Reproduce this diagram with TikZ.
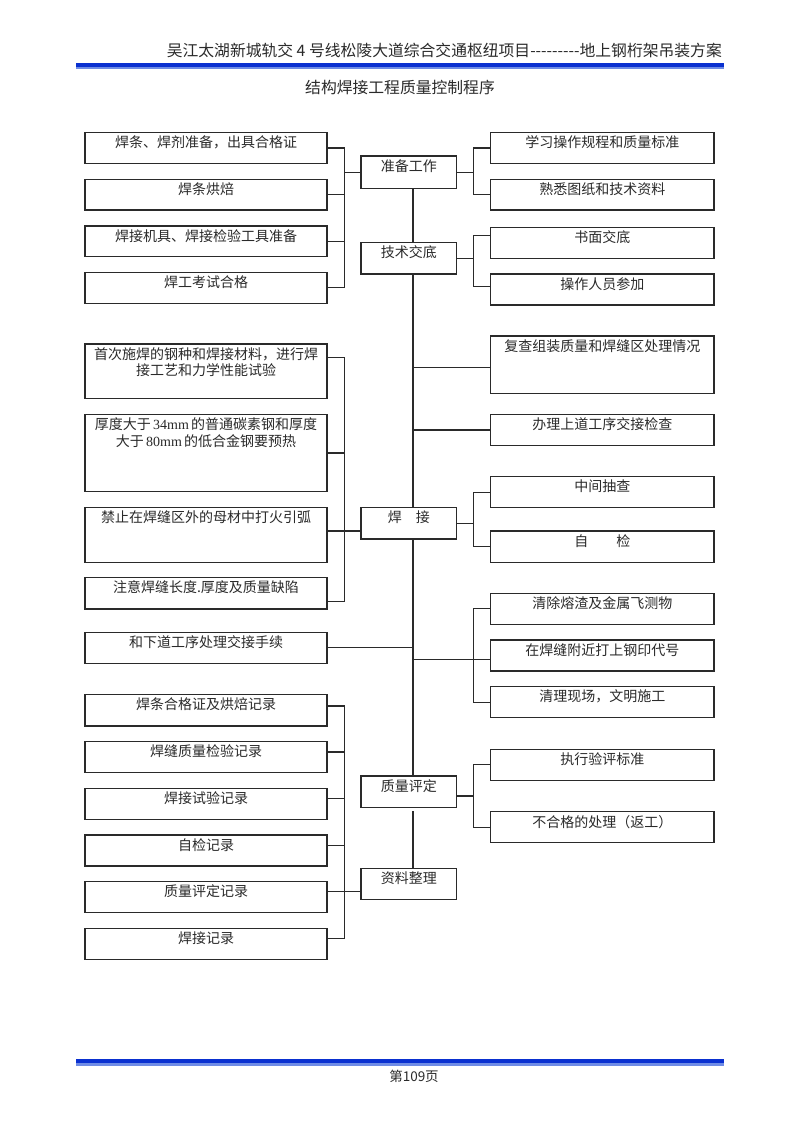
\documentclass[tikz,border=0pt]{standalone}
\usepackage{fontspec}
\setmainfont{Noto Sans CJK SC}
\newfontfamily\latser{Liberation Serif}
\definecolor{hdrblue}{HTML}{0A30D0}
\definecolor{hdrlight}{HTML}{6F8CE6}
\definecolor{ink}{HTML}{2A2A2A}
\begin{document}
\begin{tikzpicture}[x=1pt,y=-1pt,
  box/.style={draw=ink, line width=1.1pt, anchor=north west, inner sep=0pt, outer sep=0pt},
  lbox/.style={box, minimum width=242pt},
  cbox/.style={box, minimum width=95.7pt},
  rbox/.style={box, minimum width=223.3pt},
  txt/.style={anchor=north, inner sep=0pt, yshift=-3.2pt, align=center, font=\fontsize{14}{16.7}\selectfont, text=ink},
  wire/.style={draw=ink, line width=1.1pt}]
\fill[white] (0,0) rectangle (800,1132);
\useasboundingbox (0,0) rectangle (800,1132);
% header and footer
\fill[hdrblue] (76,63) rectangle (724,67.3);
\fill[hdrlight] (76,67.3) rectangle (724,69.3);
\node[anchor=base east, inner sep=0pt, text=ink, font=\fontsize{15.8}{18}\selectfont] (hdr) at (722,57) {吴江太湖新城轨交 4 号线松陵大道综合交通枢纽项目-{}-{}-{}-{}-{}-{}-{}-{}-{}地上钢桁架吊装方案};
\node[anchor=base, inner sep=0pt, text=ink, font=\fontsize{15.8}{18}\selectfont] (title) at (400,93) {结构焊接工程质量控制程序};
\fill[hdrblue] (76,1059.3) rectangle (724,1063.3);
\fill[hdrlight] (76,1063.3) rectangle (724,1065.7);
\node[anchor=base, inner sep=0pt, text=ink, font=\fontsize{13.5}{16}\selectfont] (pg) at (414,1081) {第109页};
% bus coordinates
\coordinate (LB) at (344.5,0);
\coordinate (MV) at (413,0);
\coordinate (RB) at (473.5,0);
% top section
\node[lbox, minimum height=31pt, label={[txt]north:焊条、焊剂准备，出具合格证}] (b1) at (85,132.5) {};
\node[lbox, minimum height=30.7pt, label={[txt]north:焊条烘焙}] (b2) at (85,179.3) {};
\node[lbox, minimum height=30.7pt, label={[txt]north:焊接机具、焊接检验工具准备}] (b3) at (85,226) {};
\node[lbox, minimum height=31pt, label={[txt]north:焊工考试合格}] (b4) at (85,272.3) {};
\node[cbox, minimum height=32.7pt, label={[txt]north:准备工作}] (c1) at (361,156) {};
\node[rbox, minimum height=31pt, label={[txt]north:学习操作规程和质量标准}] (r1) at (490.7,132.5) {};
\node[rbox, minimum height=30.7pt, label={[txt]north:熟悉图纸和技术资料}] (r2) at (490.7,179.3) {};
\node[cbox, minimum height=31.3pt, label={[txt]north:技术交底}] (c2) at (361,242.7) {};
\node[rbox, minimum height=31pt, label={[txt]north:书面交底}] (r3) at (490.7,227.3) {};
\node[rbox, minimum height=31pt, label={[txt]north:操作人员参加}] (r4) at (490.7,274) {};
% welding section
\node[lbox, minimum height=54.7pt, label={[txt]north:首次施焊的钢种和焊接材料，进行焊\\接工艺和力学性能试验}] (l5) at (85,344) {};
\node[lbox, minimum height=77.4pt, label={[txt]north:厚度大于{\latser\,34mm\,}的普通碳素钢和厚度\\大于{\latser\,80mm\,}的低合金钢要预热}] (l6) at (85,414.3) {};
\node[lbox, minimum height=54.6pt, label={[txt]north:禁止在焊缝区外的母材中打火引弧}] (l7) at (85,507.7) {};
\node[lbox, minimum height=31.3pt, label={[txt]north:注意焊缝长度.厚度及质量缺陷}] (l8) at (85,577.7) {};
\node[rbox, minimum height=57.3pt, label={[txt]north:复查组装质量和焊缝区处理情况}] (r5) at (490.7,336) {};
\node[rbox, minimum height=31.4pt, label={[txt]north:办理上道工序交接检查}] (r6) at (490.7,414.3) {};
\node[cbox, minimum height=31.3pt, label={[txt]north:焊　接}] (c3) at (361,507.7) {};
\node[rbox, minimum height=31pt, label={[txt]north:中间抽查}] (r7) at (490.7,476.7) {};
\node[rbox, minimum height=31.3pt, label={[txt]north:自　　检}] (r8) at (490.7,531) {};
\node[lbox, minimum height=31pt, label={[txt]north:和下道工序处理交接手续}] (l9) at (85,632.3) {};
\node[rbox, minimum height=31pt, label={[txt]north:清除熔渣及金属飞测物}] (r9) at (490.7,593.3) {};
\node[rbox, minimum height=31pt, label={[txt]north:在焊缝附近打上钢印代号}] (r10) at (490.7,640) {};
\node[rbox, minimum height=31pt, label={[txt]north:清理现场，文明施工}] (r11) at (490.7,686.7) {};
% records section
\node[lbox, minimum height=31.3pt, label={[txt]north:焊条合格证及烘焙记录}] (l10) at (85,694.7) {};
\node[lbox, minimum height=31pt, label={[txt]north:焊缝质量检验记录}] (l11) at (85,741.7) {};
\node[lbox, minimum height=31pt, label={[txt]north:焊接试验记录}] (l12) at (85,788.3) {};
\node[lbox, minimum height=31pt, label={[txt]north:自检记录}] (l13) at (85,835) {};
\node[lbox, minimum height=31pt, label={[txt]north:质量评定记录}] (l14) at (85,881.7) {};
\node[lbox, minimum height=31pt, label={[txt]north:焊接记录}] (l15) at (85,928.3) {};
\node[cbox, minimum height=31.3pt, label={[txt]north:质量评定}] (c4) at (361,776) {};
\node[rbox, minimum height=31pt, label={[txt]north:执行验评标准}] (r12) at (490.7,749.3) {};
\node[rbox, minimum height=31pt, label={[txt]north:不合格的处理（返工）}] (r13) at (490.7,811.7) {};
\node[cbox, minimum height=31pt, label={[txt]north:资料整理}] (c5) at (361,868.7) {};
% connectors: top
\draw[wire] (b1.east) -- (b1.east -| LB) -- (b4.east -| LB) -- (b4.east);
\draw[wire] (b2.east) -- (b2.east -| LB);
\draw[wire] (b3.east) -- (b3.east -| LB);
\draw[wire] (c1.west -| LB) -- (c1.west);
\draw[wire] (c1.east) -- (c1.east -| RB);
\draw[wire] (r1.west) -- (r1.west -| RB) -- (r2.west -| RB) -- (r2.west);
\draw[wire] (c1.south -| MV) -- (c2.north -| MV);
\draw[wire] (c2.east) -- (c2.east -| RB);
\draw[wire] (r3.west |- 0,235.7) -- (RB |- 0,235.7) -- (RB |- 0,286.7) -- (r4.west |- 0,286.7);
\draw[wire] (c2.south -| MV) -- (c3.north -| MV);
% connectors: welding
\draw[wire] (MV |- 0,367.3) -- (r5.west |- 0,367.3);
\draw[wire] (MV |- r6.west) -- (r6.west);
\draw[wire] (l5.east |- 0,357.7) -- (LB |- 0,357.7) -- (LB |- 0,601.7) -- (l8.east |- 0,601.7);
\draw[wire] (l6.east) -- (l6.east -| LB);
\draw[wire] (l7.east |- 0,531) -- (c3.west |- 0,531);
\draw[wire] (c3.east) -- (c3.east -| RB);
\draw[wire] (r7.west) -- (r7.west -| RB) -- (r8.west -| RB) -- (r8.west);
\draw[wire] (c3.south -| MV) -- (c4.north -| MV);
\draw[wire] (l9.east) -- (l9.east -| MV);
\draw[wire] (r9.west) -- (r9.west -| RB) -- (r11.west -| RB) -- (r11.west);
\draw[wire] (MV |- 0,659.3) -- (r10.west |- 0,659.3);
% connectors: evaluation and records
\draw[wire] (c4.east |- 0,796) -- (RB |- 0,796);
\draw[wire] (r12.west) -- (r12.west -| RB) -- (r13.west -| RB) -- (r13.west);
\draw[wire] ([yshift=-4pt]c4.south -| MV) -- (c5.north -| MV);
\draw[wire] (l10.east |- 0,706) -- (LB |- 0,706) -- (LB |- 0,938.3) -- (l15.east |- 0,938.3);
\draw[wire] (l11.east |- 0,752) -- (LB |- 0,752);
\draw[wire] (l12.east |- 0,798.7) -- (LB |- 0,798.7);
\draw[wire] (l13.east |- 0,845.3) -- (LB |- 0,845.3);
\draw[wire] (l14.east |- 0,891.7) -- (c5.west |- 0,891.7);
\end{tikzpicture}
\end{document}
